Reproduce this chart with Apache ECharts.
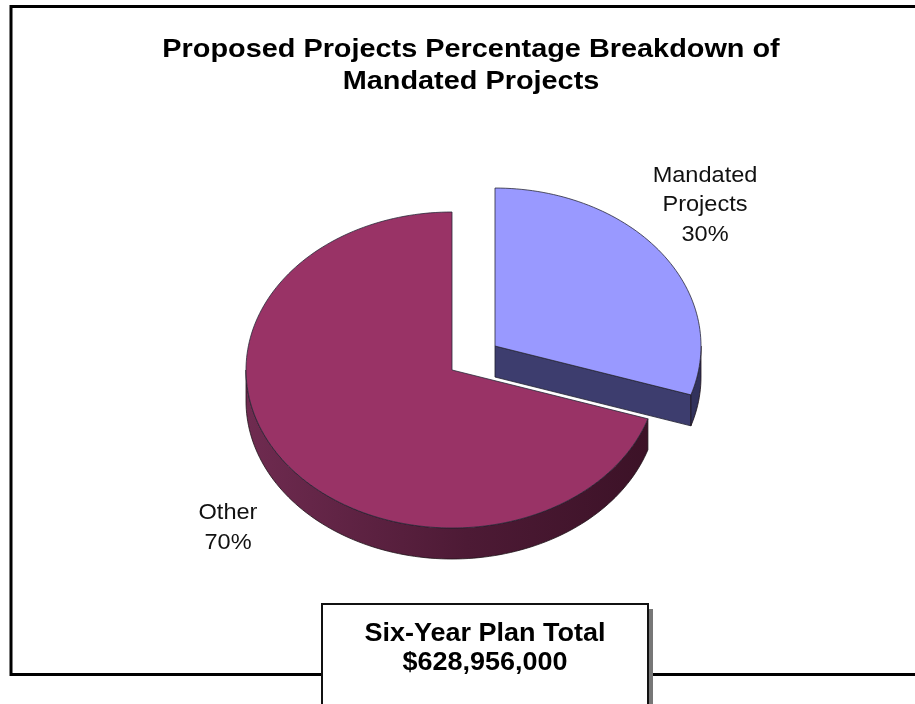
<!DOCTYPE html>
<html>
<head>
<meta charset="utf-8">
<script src="https://cdn.jsdelivr.net/npm/echarts@6/dist/echarts.min.js"></script>
<style>html,body{margin:0;padding:0;background:#fff;}#main{width:915px;height:704px;}</style>
</head>
<body>
<div id="main"></div>
<script>
// ---- data ----
const categories = ['Mandated Projects', 'Other'];
const labelNames = ['Mandated\nProjects', 'Other'];
const shares = [30, 70];
const titleLines = ['Proposed Projects Percentage Breakdown of', 'Mandated Projects'];
const totalLines = ['Six-Year Plan Total', '$628,956,000'];

// ---- layout / style ----
const FONT = '"Liberation Sans", Arial, sans-serif';
const PIE = { cx: 452, cy: 370, rx: 206, ry: 158, depth: 31 };
const explode = [0.258, 0];
const topColors = ['#9999ff', '#993366'];
const labelPos = [[705, 205], [228, 528]];

const total = shares.reduce((a, b) => a + b, 0);
const starts = [];
{ let acc = 0; shares.forEach(v => { starts.push(acc / total * 360); acc += v; }); }

function pt(cx, cy, deg, dy) {
  const r = deg * Math.PI / 180;
  return [cx + PIE.rx * Math.sin(r), cy - PIE.ry * Math.cos(r) + (dy || 0)];
}
function arc(cx, cy, a, b, dy) {
  const pts = [];
  const n = Math.max(2, Math.ceil(Math.abs(b - a) / 1.5));
  for (let i = 0; i <= n; i++) pts.push(pt(cx, cy, a + (b - a) * i / n, dy));
  return pts;
}

function renderItem(params, api) {
  const i = params.dataIndex;
  const v = api.value(0);
  const a0 = starts[i];
  const a1 = a0 + v / total * 360;
  const mid = (a0 + a1) / 2 * Math.PI / 180;
  const e = explode[i];
  const cx = PIE.cx + e * PIE.rx * Math.sin(mid);
  const cy = PIE.cy - e * PIE.ry * Math.cos(mid);
  const D = PIE.depth;
  const children = [];
  const isBlue = i === 0;

  if (Math.sin(a1 * Math.PI / 180) > 0.01) {
    const p = pt(cx, cy, a1);
    children.push({
      type: 'polygon',
      shape: { points: [[cx, cy], p, [p[0], p[1] + D], [cx, cy + D]] },
      style: { fill: isBlue ? '#3d3d6e' : '#5a1f3e', stroke: '#1e1e2e', lineWidth: 0.8 }
    });
  }
  if (Math.sin(a0 * Math.PI / 180) < -0.01) {
    const p = pt(cx, cy, a0);
    children.push({
      type: 'polygon',
      shape: { points: [[cx, cy], p, [p[0], p[1] + D], [cx, cy + D]] },
      style: { fill: isBlue ? '#3d3d6e' : '#5a1f3e', stroke: '#1e1e2e', lineWidth: 0.8 }
    });
  }
  const w0 = Math.max(a0, 90), w1 = Math.min(a1, 270);
  if (w1 > w0) {
    const topArc = arc(cx, cy, w0, w1, 0);
    const botArc = arc(cx, cy, w1, w0, D);
    children.push({
      type: 'polygon',
      shape: { points: topArc.concat(botArc) },
      style: {
        fill: isBlue ? '#32325c' : new echarts.graphic.LinearGradient(1, 0, 0, 0, [
          { offset: 0, color: '#3c1227' },
          { offset: 0.45, color: '#4d1a35' },
          { offset: 1, color: '#6f2b50' }
        ]),
        stroke: '#1e1218', lineWidth: 0.8
      }
    });
  }
  children.push({
    type: 'polygon',
    shape: { points: [[cx, cy]].concat(arc(cx, cy, a0, a1, 0)) },
    style: { fill: topColors[i], stroke: '#2a2a3a', lineWidth: 0.8 }
  });
  children.push({
    type: 'text',
    x: labelPos[i][0], y: labelPos[i][1], scaleX: 1.07,
    style: {
      text: labelNames[i] + '\n' + v + '%',
      x: 0, y: 0,
      align: 'center', verticalAlign: 'middle',
      fontFamily: FONT, fontSize: 22, lineHeight: 29.5, fill: '#111'
    }
  });
  return { type: 'group', children };
}

const chart = echarts.init(document.getElementById('main'), null, { renderer: 'canvas' });
chart.setOption({
  backgroundColor: '#fff',
  animation: false,
  graphic: [
    { type: 'rect', z: -10, shape: { x: 11, y: 6.5, width: 1000, height: 668 },
      style: { fill: 'none', stroke: '#000', lineWidth: 3 } },
    { type: 'text', z: 5, x: 471, y: 66, scaleX: 1.11, style: {
        text: titleLines.join('\n'), x: 0, y: 0, align: 'center', verticalAlign: 'middle',
        fontFamily: FONT, fontWeight: 'bold', fontSize: 26, lineHeight: 32, fill: '#000' } },
    { type: 'rect', z: 10, shape: { x: 327, y: 609, width: 326, height: 130 },
      style: { fill: '#777' } },
    { type: 'rect', z: 11, shape: { x: 322, y: 604, width: 326, height: 130 },
      style: { fill: '#fff', stroke: '#111', lineWidth: 2 } },
    { type: 'text', z: 12, x: 485, y: 649, scaleX: 1.08, style: {
        text: totalLines.join('\n'), x: 0, y: 0, align: 'center', verticalAlign: 'middle',
        fontFamily: FONT, fontWeight: 'bold', fontSize: 25, lineHeight: 29, fill: '#000' } }
  ],
  series: [{
    type: 'custom',
    coordinateSystem: 'none',
    renderItem: renderItem,
    data: shares.map((v, k) => ({ name: categories[k], value: [v] }))
  }]
});
</script>
</body>
</html>
